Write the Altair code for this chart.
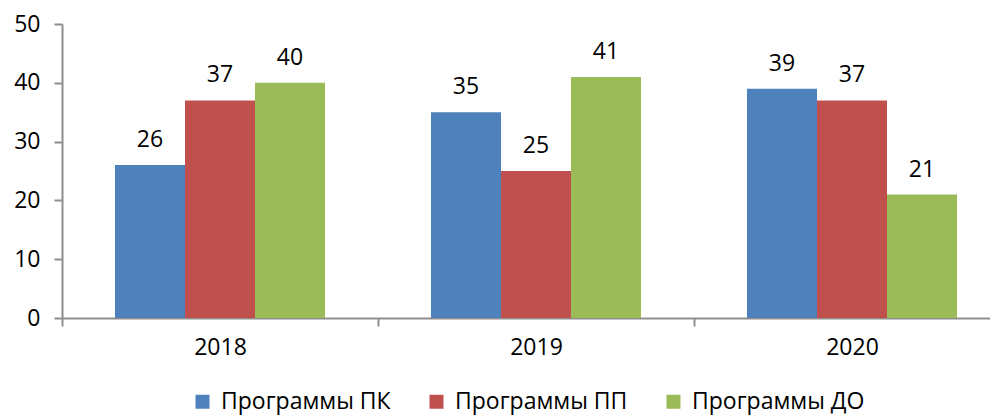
import altair as alt
import pandas as pd

years = ["2018", "2019", "2020"]
programs = ["Программы ПК", "Программы ПП", "Программы ДО"]
values_pk = [26, 35, 39]
values_pp = [37, 25, 37]
values_do = [40, 41, 21]
colors = ["#4F81BD", "#C0504D", "#9BBB59"]
y_ticks = [0, 10, 20, 30, 40, 50]

rows = []
for i, y in enumerate(years):
    for p, vals in zip(programs, [values_pk, values_pp, values_do]):
        rows.append({"year": y, "program": p, "value": vals[i]})
df = pd.DataFrame(rows)

FONT = "Open Sans"
AXIS_COLOR = "#8E8E8E"

x = alt.X("year:N", title=None, sort=years,
          scale=alt.Scale(paddingInner=0, paddingOuter=0, range=[0, 948]),
          axis=alt.Axis(labelAngle=0, tickBand="extent", tickSize=8, tickWidth=2,
                        tickColor=AXIS_COLOR, domainColor=AXIS_COLOR, domainWidth=2,
                        labelFont=FONT, labelFontSize=23, labelColor="#000000",
                        labelPadding=10, grid=False))
xo = alt.XOffset("program:N", sort=programs,
                 scale=alt.Scale(paddingInner=0, paddingOuter=0.757))
y = alt.Y("value:Q", title=None,
          scale=alt.Scale(domain=[0, 50], nice=False),
          axis=alt.Axis(values=y_ticks, tickSize=8, tickWidth=2, tickColor=AXIS_COLOR,
                        domainColor=AXIS_COLOR, domainWidth=2, grid=False,
                        labelFont=FONT, labelFontSize=23, labelColor="#000000",
                        labelPadding=14))

bars = alt.Chart(df).mark_bar().encode(
    x=x, xOffset=xo, y=y,
    color=alt.Color("program:N", sort=programs,
                    scale=alt.Scale(domain=programs, range=colors),
                    legend=alt.Legend(title=None, orient="none", direction="horizontal",
                                      legendX=129, legendY=366,
                                      symbolType="square", symbolSize=196,
                                      symbolStrokeWidth=0, labelOffset=7,
                                      columnPadding=34, labelFont=FONT,
                                      labelFontSize=23, labelColor="#000000",
                                      labelLimit=400)),
)

labels = alt.Chart(df).mark_text(
    baseline="alphabetic", dy=-18, font=FONT, fontSize=23, color="#000000"
).encode(x=x, xOffset=xo, y=y, text=alt.Text("value:Q"))

chart = alt.layer(bars, labels).properties(
    width=928, height=294,
    autosize=alt.AutoSizeParams(type="none"),
    padding={"left": 54, "top": 16, "right": 0, "bottom": 100},
).configure_view(stroke=None)

chart.save("out.html", embed_options={"renderer": "svg", "actions": False})
